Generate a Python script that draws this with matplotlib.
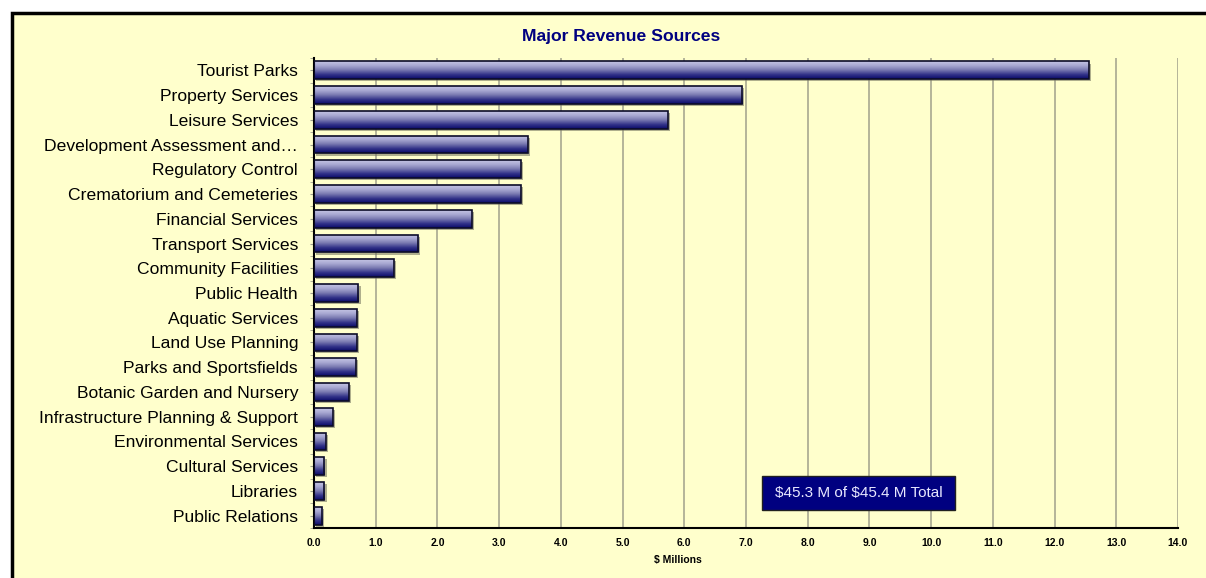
import numpy as np
import matplotlib.pyplot as plt
from matplotlib.colors import LinearSegmentedColormap
from matplotlib.patches import Rectangle
import matplotlib.patheffects as pe

plt.rcParams['font.family'] = ['Liberation Sans', 'DejaVu Sans']

# revenue by service area, $ millions
services = ['Tourist Parks', 'Property Services', 'Leisure Services',
            'Development Assessment and\u2026', 'Regulatory Control',
            'Crematorium and Cemeteries', 'Financial Services',
            'Transport Services', 'Community Facilities', 'Public Health',
            'Aquatic Services', 'Land Use Planning', 'Parks and Sportsfields',
            'Botanic Garden and Nursery', 'Infrastructure Planning & Support',
            'Environmental Services', 'Cultural Services', 'Libraries',
            'Public Relations']
revenue = [12.55, 6.94, 5.73, 3.46, 3.35, 3.35, 2.56, 1.69, 1.29, 0.72,
           0.69, 0.69, 0.68, 0.56, 0.30, 0.19, 0.17, 0.17, 0.13]
x_ticks = np.arange(0, 15, 1.0)
total_note = r'\$45.3 M of \$45.4 M Total'

bg = '#ffffcc'
navy = '#000080'

fig = plt.figure(figsize=(12.06, 5.78), dpi=100)
fig.patch.set_facecolor('white')

# chart area frame
frame = Rectangle((12 / 1206, -0.1), 1.1, (578 - 13) / 578 + 0.1,
                  transform=fig.transFigure, facecolor=bg,
                  edgecolor='black', linewidth=2.5, zorder=-10)
fig.patches.append(frame)

ax = fig.add_axes([314 / 1206, 1 - 528 / 578, 864 / 1206, 470 / 578])
ax.set_facecolor('none')
ax.set_zorder(1)

y = np.arange(len(services))

# drop shadow under the bars
ax.barh(y, revenue, height=0.72, facecolor='none', edgecolor='none',
        zorder=1.5,
        path_effects=[pe.SimplePatchShadow(offset=(1.5, -1.5),
                                           shadow_rgbFace='#6e6e5a',
                                           alpha=0.55)])

bars = ax.barh(y, revenue, height=0.72, facecolor='none',
               edgecolor='#0c0c28', linewidth=1.2, zorder=3)

# vertical gradient fill for each bar
grad_cmap = LinearSegmentedColormap.from_list(
    'bar', ['#c4c4e4', '#a8a8d2', '#7878b0', '#34348a', '#0a0a68'])
grad = np.linspace(0, 1, 64).reshape(-1, 1)
for b in bars:
    x0, y0 = b.get_x(), b.get_y()
    w, h = b.get_width(), b.get_height()
    im = ax.imshow(grad, cmap=grad_cmap, aspect='auto',
                   extent=(x0, x0 + w, y0 + h, y0), origin='upper',
                   zorder=2, interpolation='bilinear')
    im.set_clip_path(b)

ax.set_xlim(0, 14)
ax.set_ylim(len(services) - 0.5, -0.5)
ax.set_xticks(x_ticks)
ax.set_xticklabels([f'{v:.1f}' for v in x_ticks], fontsize=7.5,
                   fontweight='bold')
ax.set_yticks(y)
ax.set_yticklabels(services, fontsize=12.6)
ax.set_yticks(np.arange(len(services) + 1) - 0.5, minor=True)
ax.tick_params(axis='y', which='both', length=3, color='#a0a090',
               direction='out', pad=8.5)
ax.tick_params(axis='x', length=0, pad=7)

ax.grid(axis='x', color='#a8a890', linewidth=1.2, zorder=1)
ax.set_axisbelow(True)
for side in ['top', 'right']:
    ax.spines[side].set_visible(False)
for side in ['left', 'bottom']:
    ax.spines[side].set_color('black')
    ax.spines[side].set_linewidth(1.5)

ax.set_xlabel(r'\$ Millions', fontsize=7.5, fontweight='bold')
ax.xaxis.set_label_coords(0.4213, -0.058)
fig.text(621 / 1206, 1 - 37 / 578, 'Major Revenue Sources', ha='center',
         va='center', fontsize=12.6, fontweight='bold', color=navy)

# total annotation box
note_box = Rectangle((0.5185, 0.0383), 0.2234, 0.0723,
                     transform=ax.transAxes, facecolor=navy,
                     edgecolor='#202020', linewidth=1, zorder=5)
ax.add_patch(note_box)
ax.text(0.6302, 0.0745, total_note, transform=ax.transAxes, ha='center',
        va='center', fontsize=11, color='#e8e8ff', zorder=6)

fig.savefig('out.png', dpi=100, facecolor=fig.get_facecolor())
